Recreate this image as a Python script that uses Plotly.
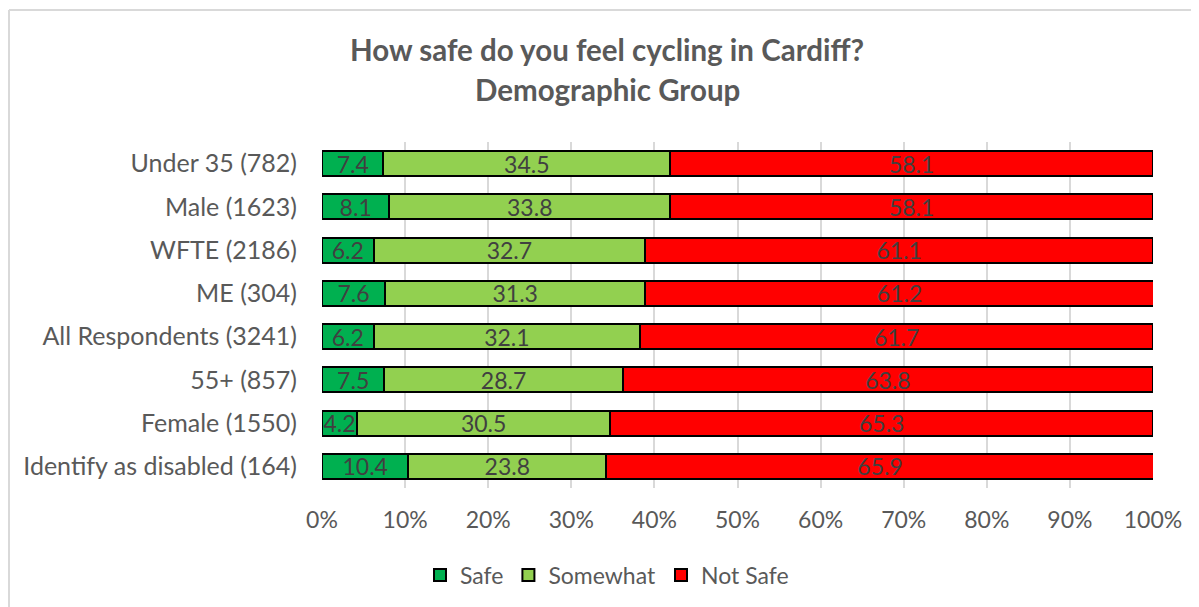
import plotly.graph_objects as go

categories = ["Under 35 (782)", "Male (1623)", "WFTE (2186)", "ME (304)",
              "All Respondents (3241)", "55+ (857)", "Female (1550)",
              "Identify as disabled (164)"]
safe = [7.4, 8.1, 6.2, 7.6, 6.2, 7.5, 4.2, 10.4]
somewhat = [34.5, 33.8, 32.7, 31.3, 32.1, 28.7, 30.5, 23.8]
not_safe = [58.1, 58.1, 61.1, 61.2, 61.7, 63.8, 65.3, 65.9]
series_names = ["Safe", "Somewhat", "Not Safe"]
series_colors = ["#00b050", "#92d050", "#ff0000"]
tick_vals = [0, 10, 20, 30, 40, 50, 60, 70, 80, 90, 100]
tick_text = ["0%", "10%", "20%", "30%", "40%", "50%", "60%", "70%", "80%", "90%", "100%"]

FONT = "Lato"
# page body has an 8px margin; plot area target in screen px: x 322..1153, y 142..488
OFF = 8
L, R_EDGE, T, B_EDGE = 322 - OFF, 1153 - OFF, 142 - OFF, 488 - OFF
W, H = 1199, 607
PW, PH = R_EDGE - L, B_EDGE - T


def px(x):
    return (x - OFF - L) / PW


def py(y):
    return (B_EDGE - (y - OFF)) / PH


fig = go.Figure()
for name, vals, col in zip(series_names, [safe, somewhat, not_safe], series_colors):
    fig.add_trace(go.Bar(
        y=categories, x=vals, name=name, orientation="h",
        marker=dict(color=col, line=dict(color="#000000", width=2)),
        text=[f"{v:.1f}" for v in vals], textposition="inside",
        insidetextanchor="middle", textangle=0,
        textfont=dict(family=FONT, size=23, color="#404040"),
        hoverinfo="skip",
    ))

fig.update_layout(
    width=W, height=H,
    barmode="stack", bargap=0.42,
    plot_bgcolor="white", paper_bgcolor="white",
    margin=dict(l=L, r=W - R_EDGE, t=T, b=H - B_EDGE, autoexpand=False),
    font=dict(family=FONT, color="#595959"),
    uniformtext=dict(minsize=23, mode="show"),
    showlegend=True,
    legend=dict(orientation="h", x=px(607), xanchor="center", y=py(575), yanchor="middle",
                font=dict(size=23, color="#595959"), traceorder="normal",
                itemwidth=30, tracegroupgap=0),
    xaxis=dict(range=[0, 100], tickvals=tick_vals, ticktext=tick_text, automargin=False,
               showgrid=True, gridcolor="#d9d9d9", gridwidth=2,
               zeroline=False, showline=False, ticks="",
               tickfont=dict(size=23, color="#595959"), ticklabelstandoff=16),
    yaxis=dict(categoryorder="array", categoryarray=categories[::-1], automargin=False,
               showgrid=False, zeroline=False, showline=False, ticks="",
               tickfont=dict(size=25, color="#595959"), ticklabelstandoff=24),
    annotations=[
        dict(text="<b>How safe do you feel cycling in Cardiff?</b>", xref="paper", yref="paper",
             x=px(607), y=py(49), xanchor="center", yanchor="middle",
             showarrow=False, font=dict(family=FONT, size=29.5, color="#595959")),
        dict(text="<b>Demographic Group</b>", xref="paper", yref="paper",
             x=px(607), y=py(90), xanchor="center", yanchor="middle",
             showarrow=False, font=dict(family=FONT, size=29.5, color="#595959")),
    ],
    shapes=[
        dict(type="line", xref="paper", yref="paper",
             x0=px(9), x1=px(1220), y0=py(10), y1=py(10),
             line=dict(color="#d9d9d9", width=2)),
        dict(type="line", xref="paper", yref="paper",
             x0=px(9), x1=px(9), y0=py(10), y1=py(640),
             line=dict(color="#d9d9d9", width=2)),
    ],
)
fig.write_html("out.html")
